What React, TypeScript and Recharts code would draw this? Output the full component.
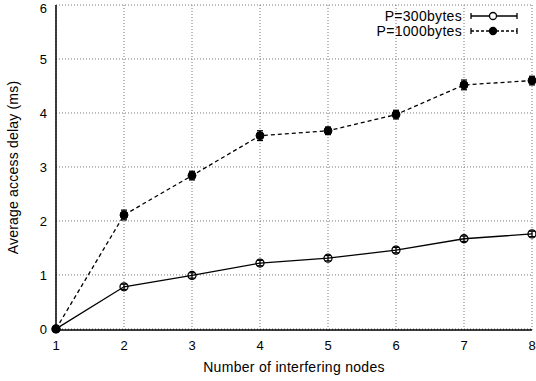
import {
  ComposedChart,
  Line,
  XAxis,
  YAxis,
  CartesianGrid,
  ErrorBar,
  Legend,
} from 'recharts'

const nodes = [1, 2, 3, 4, 5, 6, 7, 8]
const delay300 = [0, 0.78, 0.99, 1.22, 1.31, 1.46, 1.67, 1.76]
const err300 = [0.02, 0.05, 0.05, 0.05, 0.05, 0.05, 0.05, 0.05]
const delay1000 = [0, 2.11, 2.84, 3.58, 3.67, 3.97, 4.52, 4.6]
const err1000 = [0.02, 0.09, 0.08, 0.09, 0.07, 0.08, 0.09, 0.08]
const xTicks = [1, 2, 3, 4, 5, 6, 7, 8]
const yTicks = [0, 1, 2, 3, 4, 5, 6]
const seriesNames = ['P=300bytes', 'P=1000bytes']

const chartData = nodes.map((n, i) => ({
  n,
  p300: delay300[i],
  e300: err300[i],
  p1000: delay1000[i],
  e1000: err1000[i],
}))

const font = '"Liberation Sans", Arial, sans-serif'

function OpenDot(props: any) {
  const { cx, cy } = props
  if (cx == null || cy == null) return null
  return <circle cx={cx} cy={cy} r={4} fill="none" stroke="#000" strokeWidth={1.3} />
}

function FilledDot(props: any) {
  const { cx, cy } = props
  if (cx == null || cy == null) return null
  return <circle cx={cx} cy={cy} r={4} fill="#000" stroke="#000" strokeWidth={1} />
}

// key drawn in its own svg, placed at the top right inside the frame
function KeyBox() {
  const rows = [
    { name: seriesNames[0], dash: undefined, filled: false },
    { name: seriesNames[1], dash: '3 2', filled: true },
  ]
  return (
    <svg width={196} height={40} style={{ display: 'block' }}>
      {rows.map((r, i) => {
        const y = 16 + i * 15
        return (
          <g key={r.name}>
            <text
              x={122}
              y={y}
              textAnchor="end"
              dominantBaseline="central"
              fontFamily={font}
              fontSize={14}
              letterSpacing={0.3}
              fill="#000"
            >
              {r.name}
            </text>
            <line x1={131} x2={177} y1={y} y2={y} stroke="#000" strokeWidth={1.3} strokeDasharray={r.dash} />
            <line x1={131} x2={131} y1={y - 3} y2={y + 3} stroke="#000" strokeWidth={1.3} />
            <line x1={177} x2={177} y1={y - 3} y2={y + 3} stroke="#000" strokeWidth={1.3} />
            <circle cx={153} cy={y} r={3.5} fill={r.filled ? '#000' : '#fff'} stroke="#000" strokeWidth={1.3} />
          </g>
        )
      })}
    </svg>
  )
}

function YTitle(props: any) {
  const vb = props.viewBox || {}
  const cy = (vb.y || 0) + (vb.height || 0) / 2
  return (
    <text
      x={13}
      y={cy}
      transform={`rotate(-90, 13, ${cy})`}
      textAnchor="middle"
      dominantBaseline="central"
      fontFamily={font}
      fontSize={14}
      letterSpacing={0.2}
      fill="#000"
    >
      Average access delay (ms)
    </text>
  )
}

export default function App() {
  return (
    <div style={{ position: 'absolute', left: 0, top: 0, width: 536, height: 381, background: '#fff' }}>
      <ComposedChart
        width={536}
        height={381}
        data={chartData}
        margin={{ top: 5, right: 4, left: 0, bottom: 0 }}
        style={{ fontFamily: font }}
      >
        <CartesianGrid stroke="#777" strokeDasharray="1 2" strokeWidth={1} />
        <XAxis
          dataKey="n"
          type="number"
          domain={[1, 8]}
          ticks={xTicks}
          height={51}
          tickSize={0}
          tickMargin={11}
          axisLine={{ stroke: '#000', strokeWidth: 1.5 }}
          tick={{ fill: '#000', fontSize: 13 }}
          label={{ value: 'Number of interfering nodes', position: 'insideBottom', offset: 9, fill: '#000', fontSize: 14, letterSpacing: 0.3 }}
        />
        <XAxis xAxisId="top" dataKey="n" type="number" domain={[1, 8]} orientation="top" height={0} tick={false} tickLine={false} axisLine={{ stroke: '#000', strokeWidth: 1.5 }} />
        <YAxis
          type="number"
          domain={[0, 6]}
          ticks={yTicks}
          width={56}
          tickSize={0}
          tickMargin={9}
          axisLine={{ stroke: '#000', strokeWidth: 1.5 }}
          tick={{ fill: '#000', fontSize: 13 }}
          label={<YTitle />}
        />
        <YAxis yAxisId="right" type="number" domain={[0, 6]} orientation="right" width={0} tick={false} tickLine={false} axisLine={{ stroke: '#000', strokeWidth: 1.5 }} />
        <Legend
          layout="horizontal"
          verticalAlign="middle"
          align="center"
          wrapperStyle={{ top: 0, left: 340, width: 196, height: 40 }}
          content={() => <KeyBox />}
        />
        <Line
          dataKey="p300"
          name={seriesNames[0]}
          stroke="#000"
          strokeWidth={1.3}
          dot={<OpenDot />}
          activeDot={false}
          isAnimationActive={false}
        >
          <ErrorBar dataKey="e300" width={3} stroke="#000" strokeWidth={1.3} direction="y" />
        </Line>
        <Line
          dataKey="p1000"
          name={seriesNames[1]}
          stroke="#000"
          strokeWidth={1.3}
          strokeDasharray="4 3"
          dot={<FilledDot />}
          activeDot={false}
          isAnimationActive={false}
        >
          <ErrorBar dataKey="e1000" width={3} stroke="#000" strokeWidth={1.3} direction="y" />
        </Line>
      </ComposedChart>
    </div>
  )
}
